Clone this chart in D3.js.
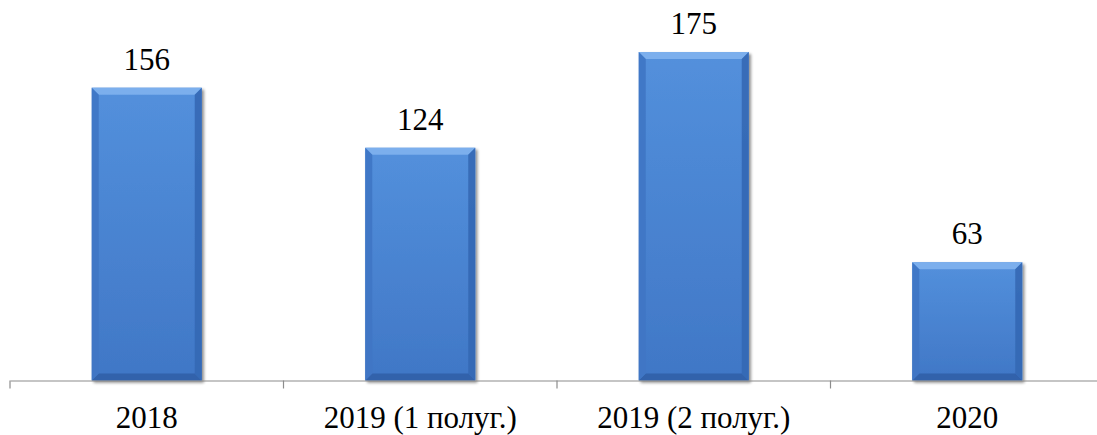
<!DOCTYPE html>
<html>
<head>
<meta charset="utf-8">
<script src="https://cdn.jsdelivr.net/npm/d3@7"></script>
<style>
html,body{margin:0;padding:0;background:#fff;}
svg{display:block;}
</style>
</head>
<body>
<svg id="chart" width="1097" height="435"></svg>
<script>
const categories = ["2018", "2019 (1 полуг.)", "2019 (2 полуг.)", "2020"];
const values = [156, 124, 175, 63];
const yMax = 200;

const W = 1097, H = 435;
const axisY = 380.5;
const svg = d3.select("#chart");

const x = d3.scaleBand().domain(categories).range([10, 1104]).paddingInner(0).paddingOuter(0);
const y = d3.scaleLinear().domain([0, yMax]).range([axisY, axisY - 1.877 * yMax]);
const barW = 110;

const defs = svg.append("defs");
const g1 = defs.append("linearGradient").attr("id", "bodyGrad").attr("x1", 0).attr("y1", 0).attr("x2", 0).attr("y2", 1);
g1.append("stop").attr("offset", "0%").attr("stop-color", "#5390dc");
g1.append("stop").attr("offset", "100%").attr("stop-color", "#4077c6");
const f = defs.append("filter").attr("id", "shadow").attr("x", "-10%").attr("y", "-10%").attr("width", "130%").attr("height", "130%");
f.append("feGaussianBlur").attr("in", "SourceAlpha").attr("stdDeviation", 1.6);
f.append("feOffset").attr("dx", 2).attr("dy", 2).attr("result", "ob");
f.append("feComponentTransfer").append("feFuncA").attr("type", "linear").attr("slope", 0.45);
const fm = f.append("feMerge");
fm.append("feMergeNode");
fm.append("feMergeNode").attr("in", "SourceGraphic");

const bev = 7;
const bars = svg.append("g").selectAll("g.bar").data(categories.map((c, i) => ({c, v: values[i]})))
  .join("g").attr("class", "bar");

bars.each(function(d) {
  const gg = d3.select(this);
  const x0 = x(d.c) + x.bandwidth() / 2 - barW / 2, x1 = x0 + barW;
  const y0 = y(d.v), y1 = y(0);
  const grp = gg.append("g").attr("filter", "url(#shadow)");
  grp.append("rect").attr("x", x0).attr("y", y0).attr("width", barW).attr("height", y1 - y0).attr("fill", "url(#bodyGrad)");
  // bevels
  grp.append("polygon").attr("points", [[x0,y0],[x1,y0],[x1-bev,y0+bev],[x0+bev,y0+bev]].join(" ")).attr("fill", "#7fb2ee").attr("opacity", 0.9);
  grp.append("polygon").attr("points", [[x0,y1],[x1,y1],[x1-bev,y1-bev],[x0+bev,y1-bev]].join(" ")).attr("fill", "#2f5ea6").attr("opacity", 0.85);
  grp.append("polygon").attr("points", [[x0,y0],[x0+bev,y0+bev],[x0+bev,y1-bev],[x0,y1]].join(" ")).attr("fill", "#3f76c4").attr("opacity", 0.9);
  grp.append("polygon").attr("points", [[x1,y0],[x1-bev,y0+bev],[x1-bev,y1-bev],[x1,y1]].join(" ")).attr("fill", "#3468b4").attr("opacity", 0.9);
  gg.append("text").attr("x", x(d.c) + x.bandwidth() / 2).attr("y", y0 - 18)
    .attr("text-anchor", "middle").attr("font-family", "'Liberation Serif','Times New Roman',serif")
    .attr("font-size", 31).attr("fill", "#000").text(d.v);
});

const axis = d3.axisBottom(x).tickSize(0).tickPadding(0);
const ag = svg.append("g").attr("transform", `translate(0,${axisY})`).call(axis);
ag.select(".domain").attr("stroke", "#8c8c8c").attr("stroke-width", 1.2);
ag.selectAll(".tick line").remove();
ag.selectAll(".tick text").attr("font-family", "'Liberation Serif','Times New Roman',serif")
  .attr("font-size", 31).attr("fill", "#000").attr("dy", 0).attr("y", 47.5);
// category boundary ticks
const bounds = categories.map(c => x(c)).concat([x.range()[1]]);
ag.selectAll("line.bt").data(bounds).join("line").attr("class", "bt")
  .attr("x1", d => d).attr("x2", d => d).attr("y1", 0).attr("y2", 8)
  .attr("stroke", "#8c8c8c").attr("stroke-width", 1.2);
</script>
</body>
</html>
